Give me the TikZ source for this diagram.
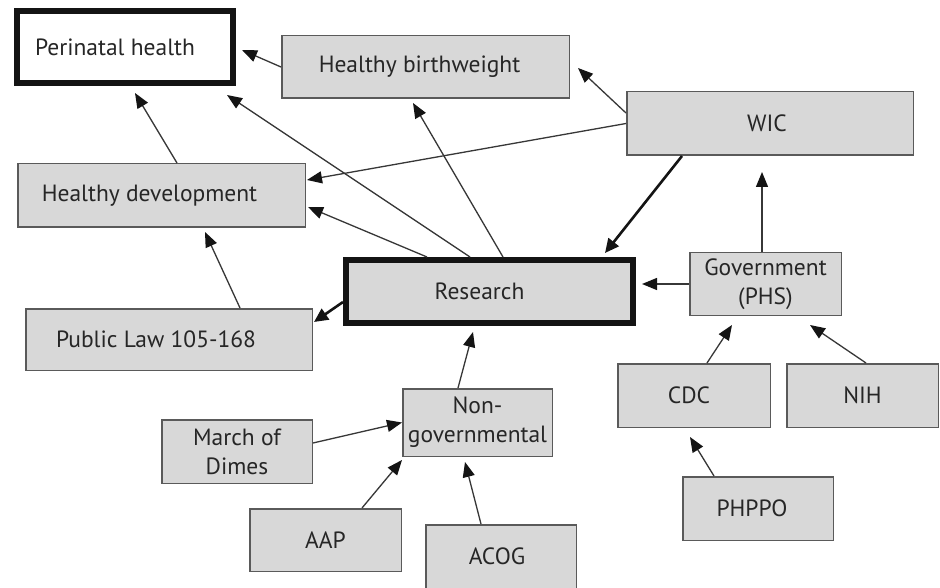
\documentclass[tikz,border=0pt]{standalone}
\usepackage{fontspec}
\setmainfont{PT Sans}
\usetikzlibrary{arrows.meta,calc}
\definecolor{boxfill}{RGB}{216,216,216}
\definecolor{boxline}{RGB}{90,90,90}
\definecolor{linecol}{RGB}{55,55,55}
\definecolor{tipcol}{RGB}{20,20,20}
\begin{document}
\begin{tikzpicture}[x=1pt,y=-1pt,
  box/.style={draw=boxline, fill=boxfill, line width=1.5pt, inner sep=0pt,
    font=\fontsize{23.5}{29}\selectfont, text=black!85, align=center},
  keybox/.style={box, draw=tipcol, line width=6pt},
  conn/.style={draw=linecol, line width=1.3pt, -{Triangle[length=15pt,width=12pt,color=tipcol]}},
  thickconn/.style={draw=tipcol, line width=2.6pt, -{Triangle[length=14pt,width=13pt,color=tipcol]}}
]
\useasboundingbox (0,0) rectangle (940,588);
\fill[white] (0,0) rectangle (940,588);

% nodes
\node[keybox, fill=white, minimum width=216pt, minimum height=72pt] (peri) at (125,47) {Perinatal health\hspace*{20pt}};
\node[box, minimum width=287.5pt, minimum height=62.5pt] (hb) at (425.5,67) {Healthy birthweight\hspace*{12pt}};
\node[box, minimum width=286.5pt, minimum height=63.5pt] (wic) at (770,123.5) {WIC\hspace*{6pt}};
\node[box, minimum width=287.5pt, minimum height=63.5pt] (hd) at (161.5,195.5) {Healthy development\hspace*{24pt}};
\node[keybox, minimum width=287pt, minimum height=63pt] (res) at (489.5,291.5) {Research\hspace*{20pt}};
\node[box, minimum width=151.5pt, minimum height=62.5pt] (gov) at (765.5,284) {Government\\(PHS)};
\node[box, minimum width=286.5pt, minimum height=61.5pt] (pl) at (169,339.5) {Public Law 105-168\hspace*{26pt}};
\node[box, minimum width=149.5pt, minimum height=67.5pt] (ng) at (477.5,422.5) {Non-\\governmental};
\node[box, minimum width=152.5pt, minimum height=63.5pt] (cdc) at (694,395.5) {CDC\hspace*{10pt}};
\node[box, minimum width=151.5pt, minimum height=63.5pt] (nih) at (862.5,395.5) {NIH};
\node[box, minimum width=150.5pt, minimum height=63.5pt] (mod) at (237,451.5) {March of\\Dimes};
\node[box, minimum width=150.5pt, minimum height=63.5pt] (phppo) at (758,508.5) {PHPPO\hspace*{12pt}};
\node[box, minimum width=151.5pt, minimum height=62.5pt] (aap) at (325.5,540) {AAP};
\node[box, minimum width=150.5pt, minimum height=63.5pt] (acog) at (501,556.5) {ACOG\hspace*{8pt}};

% connectors
\draw[conn] (hb.west) -- ($(peri.east)+(6,3)$);
\draw[conn] ($(hd.north)+(15.5,0)$) -- ($(peri.south)+(10,7)$);
\draw[conn] ($(res.north)+(-19.5,0)$) -- ($(peri.south east)+(-9,9)$);
\draw[conn] ($(res.north)+(-62.5,0)$) -- ($(hd.east)+(2,11.5)$);
\draw[conn] ($(res.north)+(13.5,0)$) -- ($(hb.south)+(-12.5,4)$);
\draw[conn] ($(wic.west)+(0,-10.5)$) -- ($(hb.east)+(8,1)$);
\draw[conn] (wic.west) -- ($(hd.east)+(1,-15.5)$);
\draw[thickconn] ($(wic.south)+(-88,0)$) -- ($(res.north east)+(-31,-4)$);
\draw[conn] ($(gov.north)+(-3.5,0)$) -- ($(wic.south)+(-8,16)$);
\draw[conn] (gov.west) -- ($(res.east)+(6,-7.5)$);
\draw[thickconn] ($(res.west)+(0,10.5)$) -- ($(pl.east)+(1,-17.5)$);
\draw[conn] ($(pl.north)+(71,0)$) -- ($(hd.south)+(43.5,4)$);
\draw[conn] ($(ng.north)+(-19.5,0)$) -- ($(res.south)+(-16.5,6)$);
\draw[conn] ($(mod.east)+(0,-8.5)$) -- (ng.west);
\draw[conn] ($(aap.north)+(36.5,0)$) -- ($(ng.south west)+(0,3)$);
\draw[conn] ($(acog.north)+(-20,0)$) -- ($(ng.south)+(-12.5,5)$);
\draw[conn] ($(cdc.north)+(13,0)$) -- ($(gov.south)+(-33.5,9)$);
\draw[conn] ($(nih.north)+(3.5,0)$) -- ($(gov.south)+(44.5,9)$);
\draw[conn] ($(phppo.north)+(-44,0)$) -- ($(cdc.south)+(-4,9)$);
\end{tikzpicture}
\end{document}
